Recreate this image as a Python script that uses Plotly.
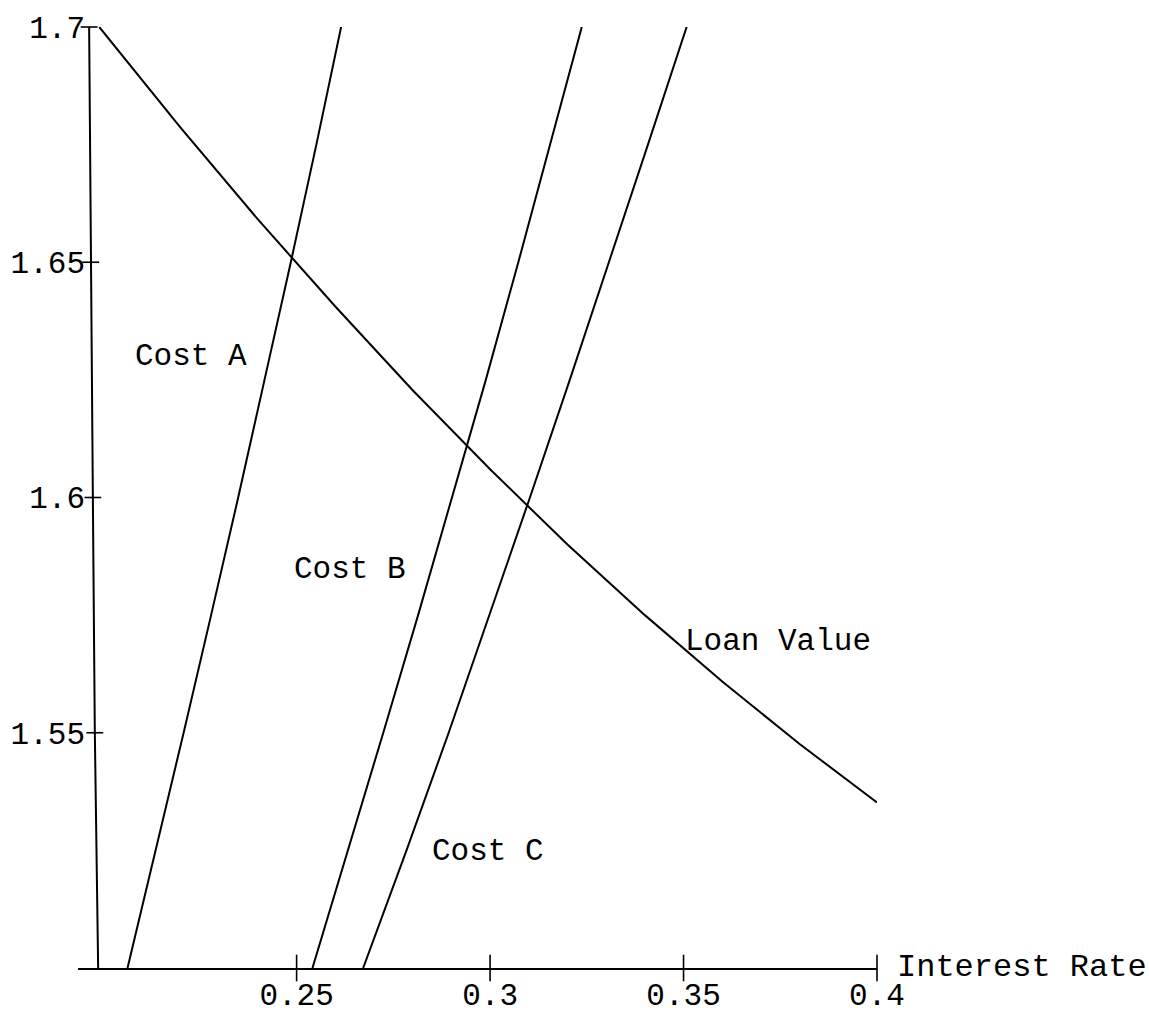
import numpy as np
import plotly.graph_objects as go

# ---- data ----
x_ticks = [0.25, 0.3, 0.35, 0.4]
x_tick_labels = ["0.25", "0.3", "0.35", "0.4"]
y_ticks = [1.55, 1.6, 1.65, 1.7]
y_tick_labels = ["1.55", "1.6", "1.65", "1.7"]

# Loan value curve
loan_x = [0.199, 0.22, 0.24, 0.26, 0.28, 0.30, 0.32, 0.34, 0.36, 0.38, 0.40]
loan_y = [1.700, 1.6786, 1.6591, 1.6406, 1.6228, 1.6060, 1.5900, 1.5750, 1.5609, 1.5476, 1.5352]

# steep boundary curves (x as read at given y levels)
edge_y = [1.5, 1.55, 1.6, 1.6462, 1.7]
edge_x = [0.19871, 0.19785, 0.19734, 0.19682, 0.19638]

cost_y = [1.5, 1.525, 1.55, 1.575, 1.6, 1.625, 1.65, 1.675, 1.7]
cost_ab_x = [0.2063, 0.2136, 0.2208, 0.2279, 0.2349, 0.2417, 0.2485, 0.2551, 0.2615]
cost_bc_x = [0.2541, 0.2633, 0.2724, 0.2814, 0.2902, 0.2989, 0.3073, 0.3156, 0.3237]
cost_c_x = [0.2672, 0.2784, 0.2893, 0.2999, 0.3103, 0.3206, 0.3308, 0.3408, 0.3508]

region_labels = ["Cost A", "Cost B", "Cost C", "Loan Value"]
region_label_x = [0.2228, 0.2638, 0.2995, 0.3743]
region_label_y = [1.6299, 1.5848, 1.5247, 1.5694]

x_title = "Interest Rate"

FONT = "Liberation Mono, Courier New, monospace"
LW = 2.0

fig = go.Figure()
fig.add_trace(go.Scatter(x=edge_x, y=edge_y, mode="lines",
                         line=dict(color="black", width=LW), hoverinfo="skip", cliponaxis=False))
for cx in (cost_ab_x, cost_bc_x, cost_c_x):
    fig.add_trace(go.Scatter(x=cx, y=cost_y, mode="lines",
                             line=dict(color="black", width=LW), hoverinfo="skip", cliponaxis=False))
fig.add_trace(go.Scatter(x=loan_x, y=loan_y, mode="lines",
                         line=dict(color="black", width=LW), hoverinfo="skip", cliponaxis=False))

# crossing tick marks
fig.add_trace(go.Scatter(
    x=x_ticks, y=[1.5] * len(x_ticks), mode="markers", cliponaxis=False,
    marker=dict(symbol="line-ns", size=19, line=dict(color="black", width=1.6)),
    hoverinfo="skip"))
ytick_x = list(np.interp(y_ticks, edge_y, edge_x))
fig.add_trace(go.Scatter(
    x=ytick_x, y=y_ticks, mode="markers", cliponaxis=False,
    marker=dict(symbol="line-ew", size=12, line=dict(color="black", width=1.6)),
    hoverinfo="skip"))

for t, lx, ly in zip(region_labels, region_label_x, region_label_y):
    fig.add_annotation(x=lx, y=ly, text=t, showarrow=False,
                       font=dict(family=FONT, size=31, color="black"),
                       xanchor="center", yanchor="middle")

fig.add_annotation(x=0.4, y=1.5, text=x_title, showarrow=False,
                   font=dict(family=FONT, size=32, color="black"),
                   xanchor="left", yanchor="middle", xshift=18, yshift=1)

W, H = 1149, 1013
ml, mr, mt, mb = 78, 272, 27, 45
x_range = [0.1935, 0.4]
yaxis_px = 90
fig.update_layout(
    width=W, height=H,
    margin=dict(l=ml, r=mr, t=mt, b=mb, pad=0),
    plot_bgcolor="white", paper_bgcolor="white",
    showlegend=False,
    xaxis=dict(range=x_range, showgrid=False, zeroline=False,
               showline=True, linecolor="black", linewidth=LW,
               tickvals=x_ticks, ticktext=x_tick_labels, ticks="",
               tickfont=dict(family=FONT, size=31, color="black"),
               ticklabelstandoff=-2, automargin=False, fixedrange=True),
    yaxis=dict(range=[1.5, 1.7], showgrid=False, zeroline=False,
               showline=False, anchor="free",
               position=(yaxis_px - ml) / (W - ml - mr),
               tickvals=y_ticks, ticktext=y_tick_labels, ticks="",
               tickfont=dict(family=FONT, size=31, color="black"),
               ticklabelstandoff=5, automargin=False, fixedrange=True),
)

fig.write_html("out.html")
